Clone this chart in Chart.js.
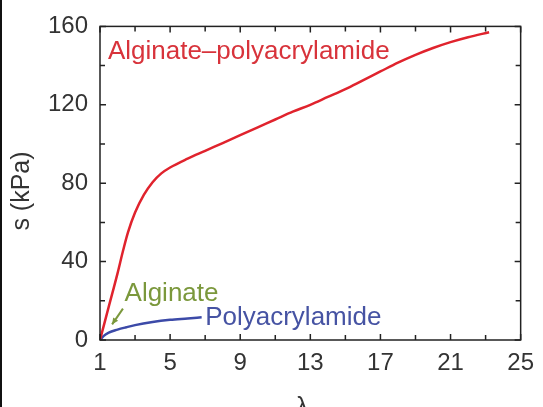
<!DOCTYPE html>
<html>
<head>
<meta charset="utf-8">
<script src="https://cdn.jsdelivr.net/npm/chart.js@4.4.1/dist/chart.umd.min.js"></script>
<style>
  html, body { margin: 0; padding: 0; background: #fff; }
  #wrap { position: relative; width: 543px; height: 407px; }
</style>
</head>
<body>
<div id="wrap"><canvas id="chart" width="543" height="407"></canvas></div>
<script>
// ─── Data ──────────────────────────────────────────────────────────
const redLambda = [1, 1.5, 2, 2.3, 2.6, 3, 3.5, 4, 4.5, 5, 6, 7, 8, 9, 10, 11, 12, 13, 14, 15, 16, 17, 18, 19, 20, 21, 22, 23.2];
const redStress = [0, 17, 34, 45, 55, 65, 74, 80.5, 85, 88, 92.5, 96.5, 100.5, 104.5, 108.5, 112.5, 116.5, 120, 124, 128, 132.5, 137, 141.5, 145.5, 149, 152, 154.5, 157];

const blueLambda = [1, 1.2, 1.5, 2, 2.5, 3, 4, 5, 6, 6.8];
const blueStress = [0, 2, 3.8, 5.3, 6.5, 7.6, 9.2, 10.3, 11, 11.6];

// green pointer towards the alginate curve (tail -> head)
const arrowLambda = [2.31, 1.69];
const arrowStress = [16, 8];

const xTicks = [1, 5, 9, 13, 17, 21, 25];
const xMinor = [3, 7, 11, 15, 19, 23];
const yTicks = [0, 40, 80, 120, 160];
const yMinor = [20, 60, 100, 140];

const labelTexts = ['Alginate\u2013polyacrylamide', 'Alginate', 'Polyacrylamide'];
const labelLambda = [1.45, 2.4, 7.0];
const labelStress = [143.4, 20, 7.5];
const labelColors = ['#d8333b', '#7b983c', '#4653a3'];

const FONT = '"Liberation Sans", Arial, Helvetica, sans-serif';

const zip = (xs, ys) => xs.map((x, i) => ({ x, y: ys[i] }));

// frame, inward ticks, in-plot labels, arrow head, axis titles
const decor = {
  id: 'decor',
  afterDraw(chart) {
    const { ctx, chartArea: a, scales: { x, y } } = chart;
    ctx.save();

    // left edge line of the cropped figure
    ctx.fillStyle = '#111';
    ctx.fillRect(0, 0, 2, chart.height);

    ctx.strokeStyle = '#222';
    ctx.lineWidth = 1.5;
    ctx.strokeRect(a.left, a.top, a.right - a.left, a.bottom - a.top);

    ctx.beginPath();
    const tickX = (v, len) => {
      const px = x.getPixelForValue(v);
      ctx.moveTo(px, a.bottom); ctx.lineTo(px, a.bottom - len);
      ctx.moveTo(px, a.top); ctx.lineTo(px, a.top + len);
    };
    const tickY = (v, len) => {
      const py = y.getPixelForValue(v);
      ctx.moveTo(a.left, py); ctx.lineTo(a.left + len, py);
      ctx.moveTo(a.right, py); ctx.lineTo(a.right - len, py);
    };
    xTicks.forEach(v => tickX(v, 6));
    xMinor.forEach(v => tickX(v, 5));
    yTicks.forEach(v => tickY(v, 6));
    yMinor.forEach(v => tickY(v, 5));
    ctx.stroke();

    // curve labels
    ctx.font = '26px ' + FONT;
    ctx.textAlign = 'left';
    ctx.textBaseline = 'alphabetic';
    labelTexts.forEach((t, i) => {
      ctx.fillStyle = labelColors[i];
      ctx.fillText(t, x.getPixelForValue(labelLambda[i]), y.getPixelForValue(labelStress[i]));
    });

    // arrow head
    const tx = x.getPixelForValue(arrowLambda[0]), ty = y.getPixelForValue(arrowStress[0]);
    const hx = x.getPixelForValue(arrowLambda[1]), hy = y.getPixelForValue(arrowStress[1]);
    const ang = Math.atan2(hy - ty, hx - tx);
    ctx.fillStyle = '#7b983c';
    ctx.beginPath();
    ctx.moveTo(hx, hy);
    ctx.lineTo(hx - 7 * Math.cos(ang - 0.45), hy - 7 * Math.sin(ang - 0.45));
    ctx.lineTo(hx - 7 * Math.cos(ang + 0.45), hy - 7 * Math.sin(ang + 0.45));
    ctx.closePath();
    ctx.fill();

    // axis titles
    ctx.fillStyle = '#333';
    ctx.font = '25px ' + FONT;
    ctx.textAlign = 'center';
    ctx.textBaseline = 'top';
    ctx.fillText('\u03bb', (a.left + a.right) / 2 - 8, 396);
    ctx.translate(22, 191);
    ctx.rotate(-Math.PI / 2);
    ctx.textBaseline = 'middle';
    ctx.fillText('s (kPa)', 0, 0);

    ctx.restore();
  }
};

new Chart(document.getElementById('chart'), {
  type: 'line',
  data: {
    datasets: [
      {
        label: 'Alginate–polyacrylamide',
        data: zip(redLambda, redStress),
        borderColor: '#e0232d',
        borderWidth: 2.5,
        pointRadius: 0,
        cubicInterpolationMode: 'monotone',
      },
      {
        label: 'Polyacrylamide',
        data: zip(blueLambda, blueStress),
        borderColor: '#3c4aa8',
        borderWidth: 2.5,
        pointRadius: 0,
        cubicInterpolationMode: 'monotone',
      },
      {
        label: 'arrow',
        data: zip(arrowLambda, arrowStress),
        borderColor: '#7b983c',
        borderWidth: 2,
        pointRadius: 0,
      },
    ],
  },
  options: {
    responsive: false,
    animation: false,
    layout: { padding: { top: 22, right: 16, left: 0, bottom: 0 } },
    plugins: {
      legend: { display: false },
      tooltip: { enabled: false },
    },
    scales: {
      x: {
        type: 'linear',
        min: 1,
        max: 25,
        afterBuildTicks: (s) => { s.ticks = xTicks.map(v => ({ value: v })); },
        afterFit: (s) => { s.height = 67; },
        grid: { display: false, drawTicks: false },
        border: { display: false },
        ticks: {
          color: '#333',
          font: { family: FONT, size: 24 },
          padding: 9,
          maxRotation: 0,
          autoSkip: false,
        },
      },
      y: {
        type: 'linear',
        min: 0,
        max: 160,
        afterBuildTicks: (s) => { s.ticks = yTicks.map(v => ({ value: v })); },
        afterFit: (s) => { s.width = 100; },
        grid: { display: false, drawTicks: false },
        border: { display: false },
        ticks: {
          color: '#333',
          font: { family: FONT, size: 24 },
          padding: 12,
        },
      },
    },
  },
  plugins: [decor],
});
</script>
</body>
</html>
